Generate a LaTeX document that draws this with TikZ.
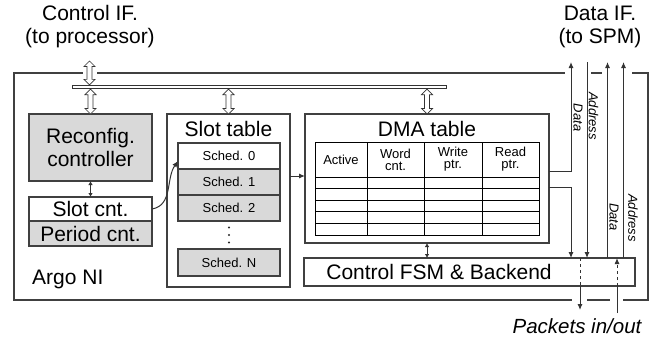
\documentclass[tikz,border=0pt]{standalone}
\usepackage{fontspec}
\setmainfont{Liberation Sans}
\usetikzlibrary{positioning,calc,arrows.meta}

\tikzset{
  big/.style={font=\fontsize{21}{23}\selectfont, inner sep=0pt},
  small/.style={font=\fontsize{13}{12}\selectfont, inner sep=0pt},
  sig/.style={font=\fontsize{13}{12}\selectfont\itshape, rotate=-90, inner sep=0pt},
  blk/.style={draw=black!75, line width=1.2pt, inner sep=0pt, outer sep=0pt},
  shaded/.style={blk, fill=black!15},
  sched/.style={shaded, small, minimum width=102pt, minimum height=26pt},
  wire/.style={draw=black!80, line width=1pt},
  tip/.style={-{Latex[length=6pt,width=5pt]}},
  twotip/.style={{Latex[length=4pt,width=4.5pt]}-{Latex[length=4pt,width=4.5pt]}},
  hollow/.style={draw=black!80, fill=white, line width=0.7pt,
    to path={let \p1=(\tikztostart), \p2=(\tikztotarget) in
      (\x1,\y1) -- (\x1+5.5pt,\y1-5.5pt) -- (\x1+2.5pt,\y1-5.5pt)
      -- (\x2+2.5pt,\y2+5.5pt) -- (\x2+5.5pt,\y2+5.5pt) -- (\x2,\y2)
      -- (\x2-5.5pt,\y2+5.5pt) -- (\x2-2.5pt,\y2+5.5pt)
      -- (\x1-2.5pt,\y1-5.5pt) -- (\x1-5.5pt,\y1-5.5pt) -- cycle}}
}

\begin{document}
\begin{tikzpicture}[x=1pt,y=-1pt]
  \useasboundingbox (0,0) rectangle (660,343);

  % Argo NI frame
  \node[blk, minimum width=634pt, minimum height=227pt] (ni) at (331,186.5) {};
  \node[big, anchor=west] (niname) at (32,279) {Argo NI};
  % gaps in the frame where the wires pass
  \fill[white] (83,70) rectangle (97,76);
  \fill[white] (565,70) rectangle (591,76);
  \fill[white] (602,70) rectangle (632,76);
  \fill[white] (572,297) rectangle (587,303);
  \fill[white] (610,297) rectangle (623,303);

  % Interface labels
  \node[big, align=center] (ctrlif) at (90,27) {Control IF.\\(to processor)};
  \node[big, align=center] (dataif) at (600,27) {Data IF.\\(to SPM)};

  % Bus
  \node[draw=black!80, line width=0.8pt, minimum width=374pt, minimum height=3.5pt, inner sep=0pt] (bus) at (259,87) {};

  % Reconfig. controller and counters
  \node[shaded, big, minimum width=123pt, minimum height=67pt, align=center] (rc) at (90.5,147.5) {Reconfig.\\controller};
  \node[blk, fill=white, big, minimum width=123pt, minimum height=24pt] (slot) at (90.5,209) {Slot cnt.};
  \node[shaded, big, minimum width=123pt, minimum height=25pt, below=0pt of slot] (period) {Period cnt.};

  % Slot table
  \node[blk, minimum width=123pt, minimum height=173pt] (st) at (228.5,200.5) {};
  \node[big] (sttitle) at (228.5,129) {Slot table};
  \node[sched, fill=white] (s0) at (229,156) {Sched. 0};
  \node[sched, below=0pt of s0] (s1) {Sched. 1};
  \node[sched, below=0pt of s1] (s2) {Sched. 2};
  \foreach \y in {227.5,235,242.5}
    \fill[black!85] (229,\y) circle (1.1pt);
  \node[sched, minimum height=27pt] (sn) at (229,262.5) {Sched. N};

  % DMA table
  \node[blk, minimum width=244pt, minimum height=129pt] (dma) at (427,178.5) {};
  \node[big] (dmatitle) at (427,129) {DMA table};
  \draw[line width=1pt] (315,142) rectangle (539,235);
  \foreach \x in {367,424,482}
    \draw[line width=1pt] (\x,142) -- (\x,235);
  \foreach \y in {177,188.6,200.2,211.8,223.4}
    \draw[line width=1pt] (315,\y) -- (539,\y);
  \node[small] (hact) at (341,159.5) {Active};
  \node[small, align=center] (hword) at (395.5,159.5) {Word\\cnt.};
  \node[small, align=center] (hwrite) at (453,159.5) {Write\\ptr.};
  \node[small, align=center] (hread) at (510.5,159.5) {Read\\ptr.};

  % Control FSM & Backend
  \node[blk, minimum width=331pt, minimum height=28pt] (fsm) at (469.5,272) {};
  \node[big] (fsmname) at (439,272) {Control FSM \& Backend};

  % Hollow bus arrows
  \coordinate (cif) at (89.5,61);
  \draw[hollow] (cif) to (cif |- bus.north);
  \draw[hollow] (rc.north |- bus.south) to (rc.north);
  \draw[hollow] (st.north |- bus.south) to (st.north);
  \draw[hollow] (dma.north |- bus.south) to (dma.north);

  % Internal arrows
  \draw[wire, twotip] (rc.south) -- (slot.north);
  \draw[wire, tip] (slot.east) to[out=10, in=235] (s0.west |- 0,161);
  \draw[wire, tip] (st.east |- 0,176) -- (dma.west |- 0,176);
  \draw[wire, twotip] (dma.south) -- (dma.south |- fsm.north);

  % Data interface wires
  \coordinate (dout) at (571,62);
  \coordinate (ain) at (587,62);
  \coordinate (din) at (607.5,62);
  \coordinate (aout) at (623.5,62);
  \draw[wire, tip] (dma.east |- 0,171) -| (dout);
  \draw[wire, tip] (dma.east |- 0,187) -| (dout |- fsm.north);
  \draw[wire, tip] (ain) -- (ain |- fsm.north);
  \draw[wire, tip] (din |- fsm.north) -- (din);
  \draw[wire, tip] (aout |- fsm.north) -- (aout);
  \node[sig] (ldout) at (578,117.5) {Data};
  \node[sig] (lain) at (593.5,116) {Address};
  \node[sig] (ldin) at (614,217) {Data};
  \node[sig] (laout) at (633,218) {Address};

  % Packets in/out
  \coordinate (pout) at (580,310);
  \coordinate (pin) at (617,313);
  \draw[wire, dashed] (pout |- fsm.north) -- (pout |- fsm.south);
  \draw[wire, tip] (pout |- fsm.south) -- (pout);
  \draw[wire] (pin) -- (pin |- fsm.south);
  \draw[wire, dashed, tip] (pin |- fsm.south) -- (pin |- fsm.north);
  \node[big, font=\fontsize{20.5}{22}\selectfont\itshape] (pkt) at (577,326) {Packets in/out};
\end{tikzpicture}
\end{document}
